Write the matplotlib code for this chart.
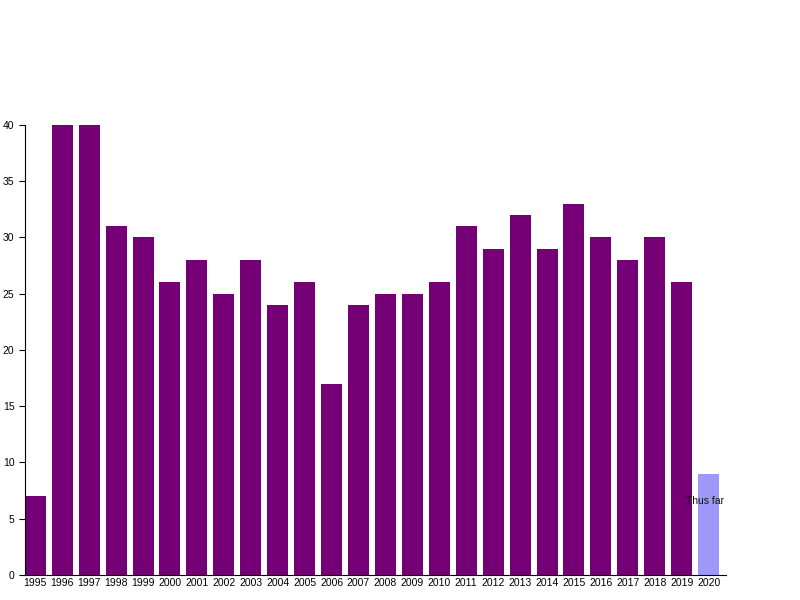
import matplotlib.pyplot as plt

# Bar values per year
years = [str(y) for y in range(1995, 2021)]
counts = [7, 40, 40, 31, 30, 26, 28, 25, 28, 24, 26, 17, 24,
          25, 25, 26, 31, 29, 32, 29, 33, 30, 28, 30, 26, 9]
colors = ["#750075"] * (len(years) - 1) + ["#9e99f8"]
note = "Thus far"
note_value = 6.6

plt.rcParams["font.family"] = ["Liberation Sans", "DejaVu Sans"]

fig = plt.figure(figsize=(8, 6), dpi=100)
ax = fig.add_axes([0.031, 0.0417, 0.877, 0.75])

x = range(len(years))
width = 0.78
ax.bar(x, counts, width=width, color=colors)
ax.text(len(years) - 1.12, note_value, note, ha="center", va="center", fontsize=7.5, color="#111111")

ax.set_xlim(-width / 2, len(years) - 1 + width / 2 + 0.27)
ax.set_ylim(0, 40)
ax.set_yticks(range(0, 41, 5))
ax.set_xticks(list(x))
ax.set_xticklabels(years)
ax.tick_params(axis="x", length=0, labelsize=7.5, pad=2)
ax.tick_params(axis="y", length=4, labelsize=7.5, pad=3.5)
ax.spines["top"].set_visible(False)
ax.spines["right"].set_visible(False)

fig.savefig("out.png", dpi=100)
